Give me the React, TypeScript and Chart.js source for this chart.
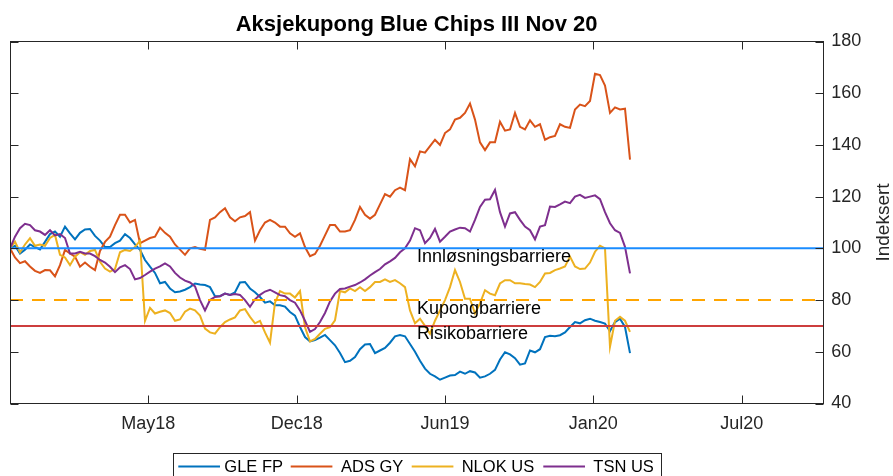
import React, { useEffect, useRef } from "react";
import { Chart, registerables } from "chart.js";

Chart.register(...registerables);

// ---- Data (weekly observations, index 0 = start, indexed to 100) ----
const chartTitle = "Aksjekupong Blue Chips III Nov 20";
const yAxisTitle = "Indeksert";

const seriesNames = ["GLE FP", "ADS GY", "NLOK US", "TSN US"];
const seriesColors = ["#0072BD", "#D95319", "#EDB120", "#7E2F8E"];

const gleFP = [
  100, 101, 98, 99.5, 101.5, 100.5, 99.6, 102.5, 105.5, 106.5,
  104.5, 108.4, 105.8, 103.5, 106, 107.3, 107.5, 104.8, 103, 100.5,
  100.5, 102, 103, 105.5, 104, 101.5, 99.4, 95.5, 92.9, 90.5,
  86.5, 87, 84.5, 83, 83.3, 84, 85, 86.4, 86, 85.8,
  85, 81.5, 81.5, 82.5, 82, 83, 86.8, 87, 84.5, 83,
  81.2, 79, 79.5, 78, 78, 77.5, 75.4, 74, 69.6, 65.7,
  64, 64.5, 65.5, 66.5, 64.5, 62.5, 59.5, 56, 56.5, 58,
  61, 62.8, 63, 59.5, 60.5, 61.5, 63.5, 66, 66.5, 66,
  63, 60, 56.5, 53.5, 51.5, 50.5, 49.2, 50, 50.8, 51,
  52.3, 51.5, 52.5, 52, 50, 50.5, 51.5, 53, 57, 59.8,
  59, 57.5, 55, 55.5, 60.5, 59.8, 61, 65.7, 66.2, 66,
  66.4, 67.5, 69.6, 71.5, 71, 72.2, 72.8, 72, 71.5, 70.9,
  68, 71.5, 72.8, 69.6, 59.5,
];

const adsGY = [
  100, 96.5, 94.3, 95, 93, 91.3, 90.5, 91.6, 91.5, 89.2,
  93.5, 99.4, 98, 96.8, 92.9, 94.5, 92.9, 91.6, 99, 102.5,
  104.5, 109, 113, 113, 110, 111, 102, 103, 104, 104.5,
  108, 106, 104.5, 101.5, 99.5, 97.5, 100, 100.5, 99.8, 99.4,
  111, 112, 114, 115.5, 112, 110.5, 112, 112.5, 114, 103,
  107, 110, 111, 110, 108.4, 108.4, 105.8, 104.5, 105.8, 100.5,
  97, 97.8, 101, 105, 109, 109, 106.5, 106.5, 107, 111,
  116, 113, 111.5, 113, 117, 121, 120, 122.5, 123.5, 122.5,
  134.5, 131.7, 137.5, 137, 139.5, 142, 140, 144.6, 146, 149.8,
  150.5, 152.4, 156, 149.8, 141, 138, 141, 141, 149, 145.5,
  146, 152.4, 147, 146, 149.5, 147, 148, 142, 143, 143.5,
  148, 147, 146.6, 153.7, 155.6, 155, 157, 167.5, 167, 163,
  152.4, 154.5, 153.7, 154, 134.3,
];

const nlokUS = [
  100, 102.6, 98.5, 101.5, 103.9, 101, 101.5, 101, 104, 105.2,
  97.5, 96.5, 93.5, 96.8, 98.5, 97.5, 99, 99.4, 94.8, 92.2,
  91, 92, 98.5, 99.4, 99, 100.5, 103, 72, 77, 74.8,
  75.5, 76, 75, 72, 72.5, 75.5, 76.7, 76, 74, 69,
  67.5, 67, 69.5, 71.5, 72.5, 73.3, 76, 76.5, 73.5, 71,
  72, 67.5, 63.5, 79, 83.5, 82.5, 82.5, 81, 83.5, 69.5,
  64, 65, 67, 68.9, 69.5, 72.2, 83.5, 83, 84.5, 83.5,
  85, 83.5, 85, 87, 87, 88, 87, 87.7, 86.5, 85,
  76, 71, 72.8, 70, 67, 72, 76, 80, 85, 91.6,
  87, 80.5, 80.5, 74.8, 78.7, 83.8, 82.5, 81.9, 86.4, 87.7,
  87.7, 86.5, 86.5, 86.2, 86, 85, 87, 90.3, 90.5, 91.6,
  92.2, 93, 96.8, 93, 92, 92.2, 94.5, 98.7, 101, 100,
  62, 72, 73.5, 72, 67.7,
];

const tsnUS = [
  100, 104.5, 107.8, 109.5, 109, 107, 106.5, 105.2, 107, 105,
  105.5, 104, 98, 98, 98.7, 98, 98, 97, 95.5, 94.5,
  92.9, 90.8, 92.7, 93.5, 92, 88, 88.5, 89.7, 91, 92.2,
  93, 94.2, 93, 90.5, 88.7, 87.5, 86.8, 85.3, 80, 76,
  80, 81.2, 81.5, 82.5, 82, 82.3, 82, 80, 77.4, 80.3,
  82, 83.3, 84, 83, 81.9, 81.5, 80, 79, 76, 72,
  67.7, 68.8, 71.5, 75, 79.5, 82.5, 84.3, 84.5, 85.2, 85.8,
  86.8, 88, 89.5, 90.8, 92, 93.8, 95, 96.3, 98.5, 100,
  103, 107.8, 107, 102, 104, 107.5, 102.6, 104.5, 106.5, 107.3,
  108, 107.8, 106.5, 111, 116, 118.8, 119, 122.6, 114, 108.4,
  113.5, 114, 111, 108.4, 107, 103.5, 108.4, 109, 116.2, 116,
  117, 118.1, 117.5, 120, 120.7, 119.5, 120, 120.5, 119, 114,
  109.7, 107, 106, 100.6, 90.3,
];

const barrierNames = ["Innløsningsbarriere", "Kupongbarriere", "Risikobarriere"];
const barrierLevels = [100, 80, 70];
const barrierColors = ["#1A8CFF", "#FFA500", "#CD3E3E"];
const barrierDashed = [false, true, false];
const barrierLabelX = 81.4; // x-value where the barrier labels start

const xMin = 0;
const xMax = 162.66;
const xTickValues = [27.66, 57.34, 87, 116.66, 146.34];
const xTickLabels = ["May18", "Dec18", "Jun19", "Jan20", "Jul20"];
const yMin = 40;
const yMax = 180;
const yStep = 20;

const FONT = '"Liberation Sans", Arial, Helvetica, sans-serif';
const AXIS_COLOR = "#262626";

const overlayPlugin = {
  id: "overlay",
  afterDraw(chart: any) {
    const { ctx, chartArea: a, scales } = chart;
    const xs = scales.x;
    const ys = scales.y;
    const L = Math.floor(a.left) + 0.5;
    const R = Math.floor(a.right) + 0.5;
    const T = Math.floor(a.top) + 0.5;
    const B = Math.floor(a.bottom) + 0.5;
    ctx.save();

    // barrier labels
    ctx.fillStyle = "#000000";
    ctx.font = `18px ${FONT}`;
    ctx.textAlign = "left";
    ctx.textBaseline = "alphabetic";
    barrierNames.forEach((name, i) => {
      const px = xs.getPixelForValue(barrierLabelX);
      const py = ys.getPixelForValue(barrierLevels[i]) + 13.5;
      ctx.fillText(name, px, py);
    });

    // axes box
    ctx.strokeStyle = AXIS_COLOR;
    ctx.lineWidth = 1;
    ctx.strokeRect(L, T, R - L, B - T);

    // inward ticks (mirrored)
    const TL = 8;
    ctx.beginPath();
    xTickValues.forEach((v) => {
      const px = Math.round(xs.getPixelForValue(v)) + 0.5;
      ctx.moveTo(px, B);
      ctx.lineTo(px, B - TL);
      ctx.moveTo(px, T);
      ctx.lineTo(px, T + TL);
    });
    for (let v = yMin; v <= yMax; v += yStep) {
      const py = Math.round(ys.getPixelForValue(v)) + 0.5;
      ctx.moveTo(L, py);
      ctx.lineTo(L + TL, py);
      ctx.moveTo(R, py);
      ctx.lineTo(R - TL, py);
    }
    ctx.stroke();

    // title
    ctx.fillStyle = "#000000";
    ctx.font = `bold 22px ${FONT}`;
    ctx.textAlign = "center";
    ctx.textBaseline = "alphabetic";
    ctx.fillText(chartTitle, (a.left + a.right) / 2, 31);

    // y axis title (right side, reading bottom to top)
    ctx.save();
    ctx.translate(889, (a.top + a.bottom) / 2);
    ctx.rotate(-Math.PI / 2);
    ctx.fillStyle = AXIS_COLOR;
    ctx.font = `19px ${FONT}`;
    ctx.textAlign = "center";
    ctx.textBaseline = "alphabetic";
    ctx.fillText(yAxisTitle, 0, 0);
    ctx.restore();

    // legend
    const boxL = 173.5, boxR = 661.5, boxT = 453.5;
    ctx.fillStyle = "#ffffff";
    ctx.fillRect(boxL, boxT, boxR - boxL, 30);
    ctx.strokeStyle = AXIS_COLOR;
    ctx.lineWidth = 1;
    ctx.strokeRect(boxL, boxT, boxR - boxL, 30);
    const lineStarts = [178.3, 290.7, 411.7, 543.3];
    const textStarts = [224.3, 341, 461.7, 593.3];
    const ly = 466.5;
    ctx.font = `16.5px ${FONT}`;
    ctx.textAlign = "left";
    ctx.textBaseline = "middle";
    seriesNames.forEach((name, i) => {
      ctx.strokeStyle = seriesColors[i];
      ctx.lineWidth = 2;
      ctx.beginPath();
      ctx.moveTo(lineStarts[i], ly);
      ctx.lineTo(lineStarts[i] + 41.7, ly);
      ctx.stroke();
      ctx.fillStyle = "#000000";
      ctx.fillText(name, textStarts[i], ly + 0.5);
    });

    ctx.restore();
  },
};

export default function App() {
  const canvasRef = useRef<HTMLCanvasElement | null>(null);

  useEffect(() => {
    const canvas = canvasRef.current;
    if (!canvas) return;
    const seriesData = [gleFP, adsGY, nlokUS, tsnUS];
    const datasets: any[] = seriesData.map((arr, i) => ({
      label: seriesNames[i],
      data: arr.map((v, k) => ({ x: k, y: v })),
      borderColor: seriesColors[i],
      backgroundColor: seriesColors[i],
      borderWidth: 2,
      pointRadius: 0,
      tension: 0,
      fill: false,
      order: 4 - i,
    }));
    barrierLevels.forEach((lvl, i) => {
      datasets.push({
        label: barrierNames[i],
        data: [
          { x: xMin, y: lvl },
          { x: xMax, y: lvl },
        ],
        borderColor: barrierColors[i],
        backgroundColor: barrierColors[i],
        borderWidth: 2,
        borderDash: barrierDashed[i] ? [13, 9] : [],
        pointRadius: 0,
        fill: false,
        order: 0,
      });
    });

    const chart = new Chart(canvas, {
      type: "line",
      data: { datasets },
      plugins: [overlayPlugin],
      options: {
        animation: false,
        responsive: false,
        maintainAspectRatio: false,
        layout: { padding: { left: 10, top: 41.5, right: 0, bottom: 0 } },
        plugins: {
          legend: { display: false },
          tooltip: { enabled: false },
          title: { display: false },
        },
        scales: {
          x: {
            type: "linear",
            min: xMin,
            max: xMax,
            afterFit: (s: any) => {
              s.height = 72.5;
            },
            afterBuildTicks: (s: any) => {
              s.ticks = xTickValues.map((v) => ({ value: v }));
            },
            ticks: {
              autoSkip: false,
              maxRotation: 0,
              minRotation: 0,
              padding: 10,
              color: AXIS_COLOR,
              font: { family: FONT, size: 18 },
              callback: (_v: any, i: number) => xTickLabels[i],
            },
            grid: { display: false, drawTicks: false },
            border: { display: false },
          },
          y: {
            type: "linear",
            position: "right",
            min: yMin,
            max: yMax,
            afterFit: (s: any) => {
              s.width = 69.7;
            },
            ticks: {
              stepSize: yStep,
              padding: 8,
              color: AXIS_COLOR,
              font: { family: FONT, size: 18 },
            },
            grid: { display: false, drawTicks: false },
            border: { display: false },
          },
        },
      },
    });
    return () => chart.destroy();
  }, []);

  return (
    <div style={{ position: "fixed", left: 0, top: 0, width: 893, height: 476, background: "#ffffff" }}>
      <canvas ref={canvasRef} width={893} height={476} style={{ display: "block" }} />
    </div>
  );
}
